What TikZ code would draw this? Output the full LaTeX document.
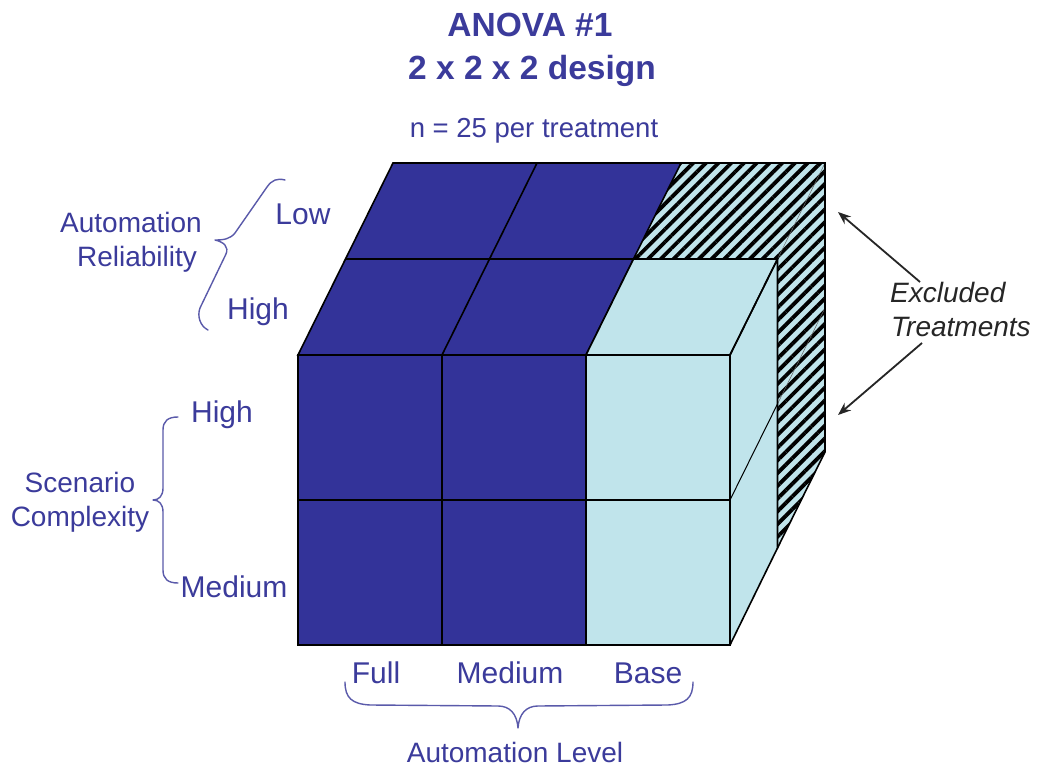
\documentclass[tikz,border=0pt]{standalone}
\usepackage{fontspec}
\setmainfont{Liberation Sans}
\usetikzlibrary{patterns.meta,arrows.meta}
\definecolor{navy}{HTML}{333399}
\definecolor{paleblue}{HTML}{C0E4EB}
\definecolor{txtblue}{HTML}{3B3B9B}
\definecolor{braceblue}{HTML}{5A5AAA}
\begin{document}
\begin{tikzpicture}[x=1pt,y=-1pt,
  edge/.style={draw=black,line width=1.6pt,line join=miter},
  thinedge/.style={draw=black!60,line width=0.5pt},
  bracepath/.style={draw=braceblue,line width=1.4pt,line cap=round,line join=round},
  titletxt/.style={text=txtblue,font=\fontsize{33.5}{38}\selectfont\bfseries,inner sep=0pt,anchor=base},
  factortxt/.style={text=txtblue,font=\fontsize{28}{32}\selectfont,inner sep=0pt,anchor=base},
  cattxt/.style={text=txtblue,font=\fontsize{30}{34}\selectfont,inner sep=0pt,anchor=base},
  ntxt/.style={text=txtblue,font=\fontsize{27.5}{31}\selectfont,inner sep=0pt,anchor=base},
  excltxt/.style={text=black!85,font=\fontsize{28}{32}\selectfont\itshape,inner sep=0pt,anchor=base west},
  pointer/.style={draw=black!85,line width=1.8pt,-{Stealth[length=13pt,width=10pt]}}
]
\useasboundingbox (0,0) rectangle (1037,767);
\fill[white] (0,0) rectangle (1037,767);

% ---------- hatched (excluded) region ----------
\fill[paleblue] (633.5,259) -- (681,163) -- (825,163) -- (825,452) -- (777.5,548) -- (777.5,259) -- cycle;
\fill[pattern={Lines[angle=45,distance=9pt,line width=3.8pt]},pattern color=black]
  (633.5,259) -- (681,163) -- (825,163) -- (825,452) -- (777.5,548) -- (777.5,259) -- cycle;
\draw[thinedge] (777.5,259) -- (825,163);
\draw[thinedge] (777.5,404) -- (825,308);
\draw[edge] (681,163) -- (825,163) -- (825,452) -- (777.5,548);

% ---------- dark top face ----------
\fill[navy] (298,355) -- (586,355) -- (633.5,259) -- (681,163) -- (393,163) -- (345.5,259) -- cycle;
\draw[edge] (298,355) -- (586,355) -- (633.5,259) -- (681,163) -- (393,163) -- (345.5,259) -- cycle;
\draw[edge] (345.5,259) -- (633.5,259);
\draw[edge] (442,355) -- (537,163);

% ---------- dark front face ----------
\fill[navy] (298,355) rectangle (586,645);
\draw[edge] (298,355) rectangle (586,645);
\draw[edge] (442,355) -- (442,645);
\draw[edge] (298,500) -- (586,500);

% ---------- light (base) box ----------
\fill[paleblue] (586,355) -- (633.5,259) -- (777.5,259) -- (777.5,548) -- (730,645) -- (586,645) -- cycle;
\draw[edge] (586,355) -- (633.5,259) -- (777.5,259) -- (730,355) -- cycle;
\draw[edge] (586,355) rectangle (730,645);
\draw[edge] (586,500) -- (730,500);
\draw[edge] (730,355) -- (777.5,259) -- (777.5,548) -- (730,645);
\draw[edge,line width=1pt] (730,500) -- (777.5,404);

% ---------- title ----------
\node[titletxt] (t1) at (530,37) {ANOVA \#1};
\node[titletxt] (t2) at (532,80) {2 x 2 x 2 design};
\node[ntxt] (nl) at (534,138) {n = 25 per treatment};

% ---------- automation reliability ----------
\node[factortxt] (ar1) at (131,233) {Automation};
\node[factortxt] (ar2) at (137,267) {Reliability};
\node[cattxt] (arlow) at (303,225) {Low};
\node[cattxt] (arhigh) at (258,320) {High};
\draw[bracepath] (285,180) .. controls (277,178) and (272,180) .. (267,187)
  -- (235,233) .. controls (230,239) and (224,240) .. (215,240)
  .. controls (224,242) and (229,247) .. (226,254)
  -- (200,308) .. controls (197,316) and (200,326) .. (208,330);

% ---------- scenario complexity ----------
\node[factortxt] (sc1) at (80,492) {Scenario};
\node[factortxt] (sc2) at (80,526) {Complexity};
\node[cattxt] (schigh) at (222,423) {High};
\node[cattxt] (scmed) at (234,597) {Medium};
\draw[bracepath] (178,417) .. controls (168,417) and (163,421) .. (163,430)
  -- (163,488) .. controls (163,496) and (159,500) .. (153,500)
  .. controls (159,500) and (163,504) .. (163,512)
  -- (163,570) .. controls (163,579) and (168,583) .. (178,583);

% ---------- automation level ----------
\node[cattxt] (full) at (376,683) {Full};
\node[cattxt] (almed) at (510,683) {Medium};
\node[cattxt] (base) at (648,683) {Base};
\node[factortxt] (al) at (515,762) {Automation Level};
\draw[bracepath] (345,682) .. controls (345,698) and (352,704) .. (370,705)
  -- (498,706) .. controls (510,706) and (517,714) .. (518,728)
  .. controls (519,714) and (526,706) .. (538,706)
  -- (668,705) .. controls (686,704) and (693,698) .. (693,682);

% ---------- excluded treatments ----------
\node[excltxt] (ex1) at (890,303) {Excluded};
\node[excltxt] (ex2) at (891,337) {Treatments};
\coordinate (p1s) at (920,282);
\coordinate (p1e) at (838,212);
\coordinate (p2s) at (922,343);
\coordinate (p2e) at (838,415);
\draw[pointer] (p1s) -- (p1e);
\draw[pointer] (p2s) -- (p2e);
\end{tikzpicture}
\end{document}
